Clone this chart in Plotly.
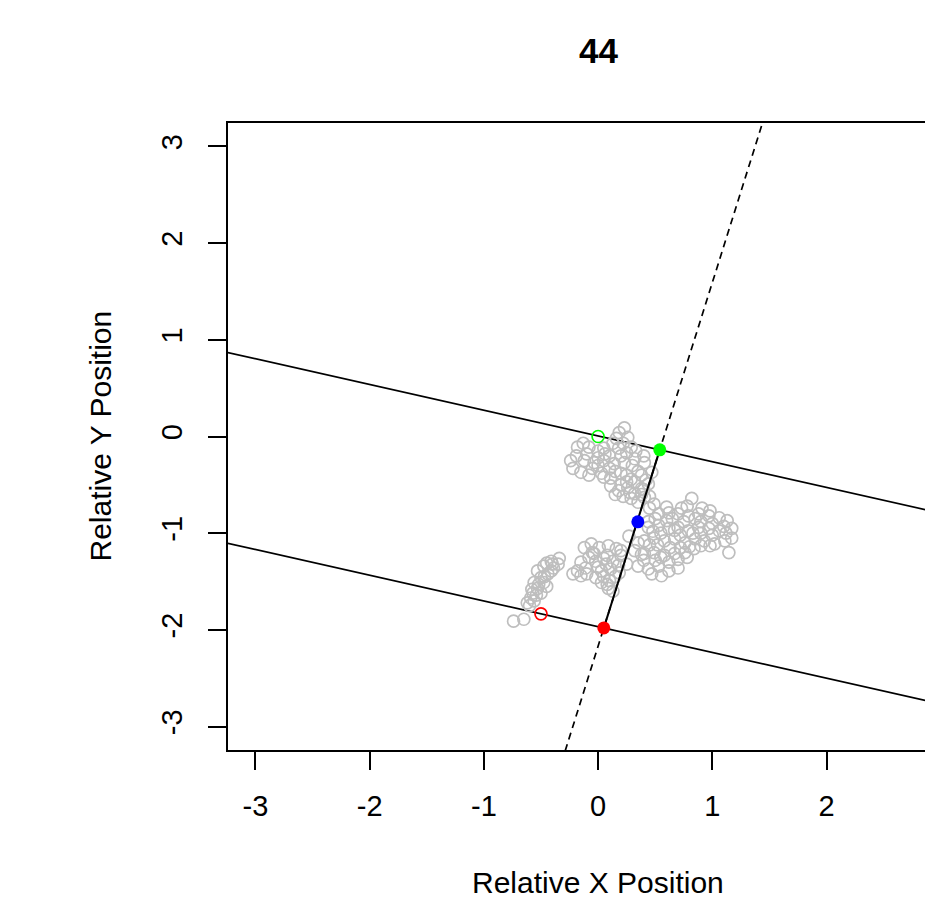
import plotly.graph_objects as go
import numpy as np

# ---- data ----
cloud_x = [
    0.23, 0.185, 0.26, 0.16, 0.22, 0.13,
    -0.18, -0.13, -0.08, 0.0, 0.05, 0.29,
    -0.24, -0.22, -0.19,
    -0.12, -0.035, 0.05, 0.14, 0.23, 0.32, 0.405,
    -0.15, -0.08, 0.03, 0.11, 0.2, 0.29, 0.38, 0.47,
    0.11, 0.18, 0.26, 0.32, 0.38, 0.44,
    0.29, 0.35, 0.405, 0.45, 0.49,
    0.2, 0.3, 0.1, 0.25, 0.35, 0.0, 0.06, 0.38,
    -0.1, 0.0, 0.1, 0.18, 0.25, 0.33, 0.4, -0.05, 0.05, 0.15, 0.25,
    0.32, 0.42, 0.2, 0.15, 0.28, 0.4, 0.45, 0.22,
    0.82, 0.73, 0.91, 0.98,
    0.53, 0.62, 0.70, 0.79, 0.88, 0.97, 1.06, 1.13,
    0.44, 0.53, 0.62, 0.70, 0.79, 0.88, 0.97, 1.06, 1.17,
    0.27, 0.405, 0.49, 0.58, 0.67, 0.76, 0.85, 0.93, 1.02, 1.11, 1.17,
    0.98, 1.145,
    0.32, 0.405, 0.49, 0.58, 0.67, 0.76, 0.84,
    0.35, 0.44, 0.53, 0.62, 0.70, 0.555, 0.47,
    0.6, 0.75, 0.9, 1.0, 0.55, 0.72, 0.9, 0.5, 0.62, 0.45, 0.8,
    0.5, 0.65, 0.85, 1.1, 0.48, 0.67, 0.83, 1.0, 1.12, 0.52, 0.63,
    0.72, 0.9, 0.4, 0.55, 0.7, 0.78, 0.35, 0.44, 0.6, 0.78, 0.38,
    -0.06, 0.01, 0.09, 0.16,
    -0.18, -0.11, -0.02, 0.05, 0.13, 0.20, 0.25,
    -0.22, -0.15, 0.03, 0.11, 0.185,
    0.03, 0.10, 0.13, 0.09,
    -0.035, -0.05, 0.07, -0.1, 0.15, 0.05,
    -0.15, -0.08, 0.0, 0.08, 0.18, -0.02, 0.08, 0.2, -0.12,
    -0.34, -0.41, -0.475, -0.39, -0.53, -0.44, -0.50, -0.56, -0.475,
    -0.53, -0.57, -0.50, -0.59, -0.62, -0.56, -0.41, -0.35,
    -0.45, -0.47, -0.52, -0.45, -0.54, -0.58, -0.6, -0.4,
    -0.74, -0.65,
]
cloud_y = [
    0.09, 0.04, -0.01, -0.02, -0.07, -0.07,
    -0.11, -0.07, -0.11, -0.15, -0.12, -0.11,
    -0.25, -0.33, -0.20,
    -0.25, -0.27, -0.25, -0.28, -0.27, -0.23, -0.27,
    -0.37, -0.40, -0.38, -0.43, -0.38, -0.44, -0.40, -0.37,
    -0.51, -0.56, -0.53, -0.59, -0.54, -0.49,
    -0.64, -0.68, -0.63, -0.74, -0.70,
    -0.2, -0.3, -0.33, -0.47, -0.36, -0.3, -0.18, -0.6,
    -0.18, -0.22, -0.2, -0.12, -0.17, -0.15, -0.2, -0.33, -0.42, -0.36, -0.4,
    -0.47, -0.45, -0.5, -0.6, -0.58, -0.55, -0.62, -0.62,
    -0.64, -0.74, -0.74, -0.77,
    -0.80, -0.79, -0.80, -0.82, -0.80, -0.82, -0.84, -0.87,
    -0.94, -0.92, -0.95, -0.94, -0.975, -0.94, -0.95, -0.975, -0.95,
    -1.03, -1.08, -1.05, -1.08, -1.06, -1.10, -1.06, -1.08, -1.11, -1.08, -1.05,
    -1.13, -1.20,
    -1.18, -1.21, -1.20, -1.23, -1.21, -1.20, -1.16,
    -1.34, -1.37, -1.34, -1.39, -1.36, -1.44, -1.42,
    -0.87, -0.88, -0.88, -0.9, -1.0, -1.02, -1.0, -1.28, -1.3, -1.12, -1.14,
    -0.85, -0.85, -0.85, -0.93, -0.98, -0.97, -1.0, -1.02, -1.0, -1.12, -1.15,
    -1.15, -1.13, -1.28, -1.25, -1.27, -1.25, -1.1, -0.88, -0.73, -0.72, -1.22,
    -1.11, -1.15, -1.13, -1.16,
    -1.39, -1.36, -1.29, -1.26, -1.29, -1.23, -1.32,
    -1.42, -1.44, -1.39, -1.37, -1.41,
    -1.51, -1.49, -1.60, -1.57,
    -1.21, -1.2, -1.32, -1.42, -1.45, -1.45,
    -1.3, -1.25, -1.35, -1.23, -1.33, -1.46, -1.53, -1.18, -1.15,
    -1.26, -1.29, -1.34, -1.36, -1.39, -1.42, -1.46, -1.51, -1.51,
    -1.57, -1.62, -1.62, -1.67, -1.72, -1.70, -1.39, -1.32,
    -1.31, -1.45, -1.53, -1.55, -1.64, -1.58, -1.75, -1.32,
    -1.91, -1.89,
]

start_open = (0.0, 0.0)        # green open circle
end_open = (-0.50, -1.834)      # red open circle
proj_top = (0.54, -0.138)       # green filled
proj_mid = (0.348, -0.882)      # blue filled
proj_bot = (0.05, -1.98)        # red filled

x_ticks = [-3, -2, -1, 0, 1, 2]
y_ticks = [-3, -2, -1, 0, 1, 2, 3]
x_range = [-3.24, 2.862]
y_range = [-3.242, 3.242]

# ---- derived lines ----
slope_axis = (proj_top[1] - proj_bot[1]) / (proj_top[0] - proj_bot[0])
slope_perp = -1.0 / slope_axis
far = 10.0
ax_y = np.array([-far, far])
ax_x = proj_bot[0] + (ax_y - proj_bot[1]) / slope_axis
px_ = np.array([-far, far])
top_y = proj_top[1] + slope_perp * (px_ - proj_top[0])
bot_y = proj_bot[1] + slope_perp * (px_ - proj_bot[0])

FONT = "Liberation Sans, Arial, sans-serif"
fig = go.Figure()

fig.add_trace(go.Scatter(x=ax_x, y=ax_y, mode="lines",
                         line=dict(color="black", width=1.7, dash="7px,5px"),
                         hoverinfo="skip"))
fig.add_trace(go.Scatter(x=px_, y=top_y, mode="lines",
                         line=dict(color="black", width=1.7), hoverinfo="skip"))
fig.add_trace(go.Scatter(x=px_, y=bot_y, mode="lines",
                         line=dict(color="black", width=1.7), hoverinfo="skip"))

fig.add_trace(go.Scatter(x=cloud_x, y=cloud_y, mode="markers",
                         marker=dict(symbol="circle-open", size=12,
                                     color="#BEBEBE", line=dict(width=1.7))))

fig.add_trace(go.Scatter(x=[proj_bot[0], proj_top[0]], y=[proj_bot[1], proj_top[1]],
                         mode="lines", line=dict(color="black", width=2),
                         hoverinfo="skip"))

fig.add_trace(go.Scatter(x=[start_open[0]], y=[start_open[1]], mode="markers",
                         marker=dict(symbol="circle-open", size=12, color="#00FF00",
                                     line=dict(width=1.7))))
fig.add_trace(go.Scatter(x=[end_open[0]], y=[end_open[1]], mode="markers",
                         marker=dict(symbol="circle-open", size=12, color="#FF0000",
                                     line=dict(width=1.7))))
fig.add_trace(go.Scatter(x=[proj_top[0], proj_mid[0], proj_bot[0]],
                         y=[proj_top[1], proj_mid[1], proj_bot[1]],
                         mode="markers",
                         marker=dict(symbol="circle", size=13,
                                     color=["#00FF00", "#0000FF", "#FF0000"])))

fig.update_layout(
    width=925, height=902,
    margin=dict(l=228, r=0, t=123, b=152, pad=0),
    paper_bgcolor="white", plot_bgcolor="white",
    showlegend=False,
    font=dict(family=FONT, size=29, color="black"),
    xaxis=dict(range=x_range, tickvals=x_ticks, ticktext=[str(v) for v in x_ticks],
               showgrid=False, zeroline=False, showline=True, mirror=True,
               linecolor="black", linewidth=1.6, ticks="outside", ticklen=18,
               tickwidth=1.6, tickcolor="black", ticklabelstandoff=11,
               tickfont=dict(family=FONT, size=29, color="black")),
    yaxis=dict(range=y_range, tickvals=y_ticks, ticktext=[str(v) for v in y_ticks],
               showgrid=False, zeroline=False, showline=True, mirror=False,
               linecolor="black", linewidth=1.6, ticks="outside", ticklen=18,
               tickwidth=1.6, tickcolor="black", tickangle=-90, ticklabelstandoff=15,
               tickfont=dict(family=FONT, size=29, color="black")),
    annotations=[
        dict(text="<b>44</b>", xref="x", yref="paper", x=0, y=1.1164,
             showarrow=False, xanchor="center", yanchor="middle",
             font=dict(family=FONT, size=35, color="black")),
        dict(text="Relative X Position", xref="x", yref="paper", x=0, y=-0.2106,
             showarrow=False, xanchor="center", yanchor="middle",
             font=dict(family=FONT, size=30, color="black")),
        dict(text="Relative Y Position", xref="paper", yref="y", x=-0.1836, y=0,
             showarrow=False, xanchor="center", yanchor="middle", textangle=-90,
             font=dict(family=FONT, size=30, color="black")),
    ],
)

fig.write_html("out.html")
